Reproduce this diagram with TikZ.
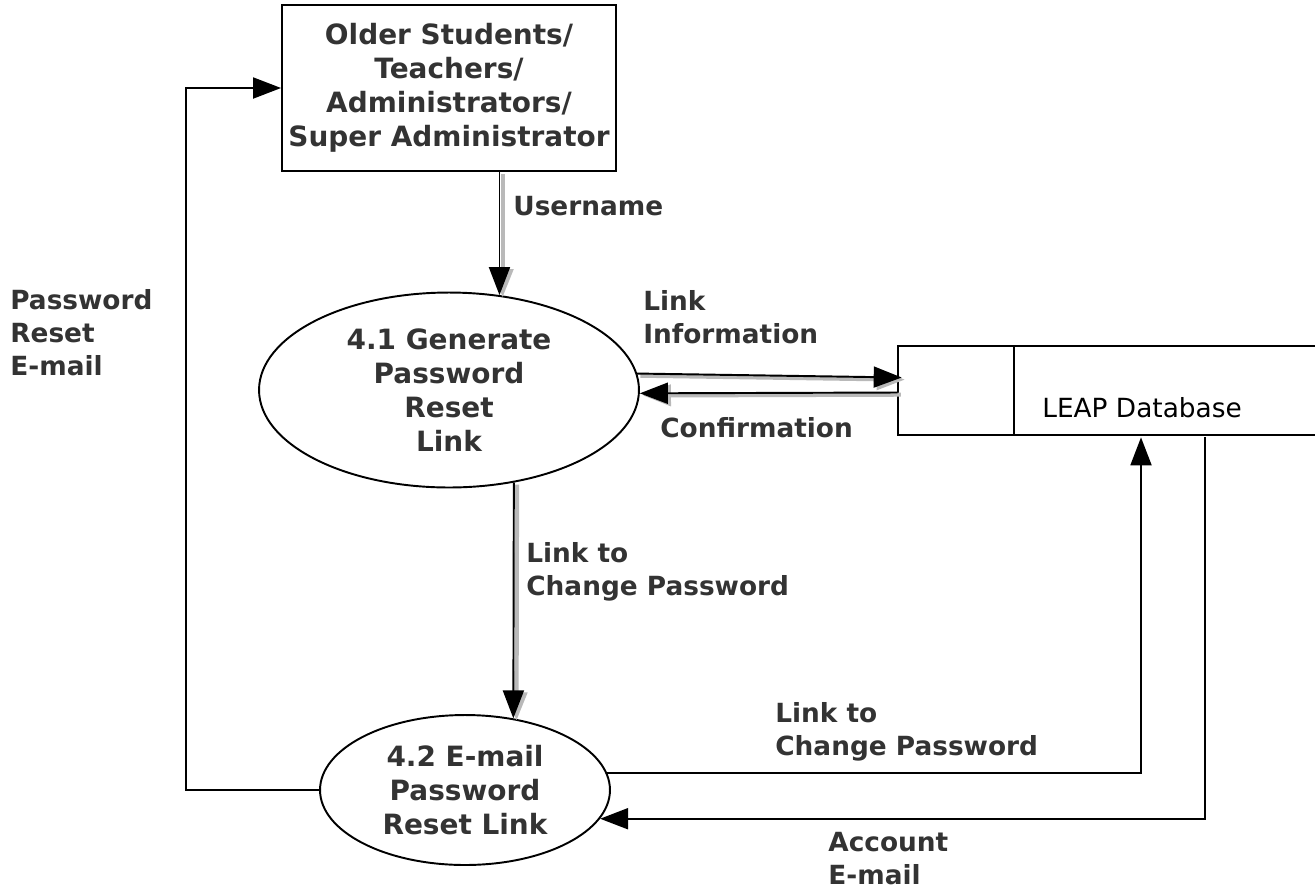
\documentclass[tikz,border=0pt]{standalone}
\usepackage{fontspec}
\setmainfont{DejaVu Sans}
\usetikzlibrary{arrows.meta,shapes.geometric,calc}
\definecolor{txtgray}{HTML}{333333}
\begin{document}
\begin{tikzpicture}[x=0.02cm,y=-0.02cm,
	txt/.style={font=\fontsize{15}{18.8}\selectfont\bfseries,text=txtgray},
	bigtxt/.style={font=\fontsize{15.9}{19.3}\selectfont\bfseries,text=txtgray},
	ent/.style={draw,line width=1.1pt,minimum width=6.68cm,minimum height=3.32cm,inner sep=1pt,align=center,bigtxt},
	proc/.style={draw,ellipse,line width=1.1pt,inner sep=0,align=center,bigtxt},
	lbl/.style={txt,anchor=west,align=left,inner sep=0},
	flow/.style={line width=1.1pt,-{Triangle[length=0.56cm,width=0.42cm]}},
	shflow/.style={flow,preaction={draw=gray!55,line width=2.4pt,transform canvas={shift={(1.8pt,-1.2pt)}}}}]
\useasboundingbox (0,0) rectangle (1315,890);
% external entity
\node[ent] (user) at (449,88) {Older Students/\\Teachers/\\Administrators/\\Super Administrator};
% processes
\node[proc,minimum width=7.6cm,minimum height=3.9cm] (gen) at (449,390) {4.1 Generate\\Password\\Reset\\Link};
\node[proc,minimum width=5.8cm,minimum height=3.0cm] (mail) at (465,790) {4.2 E-mail\\Password\\Reset Link};
% data store
\node[minimum width=8.34cm,minimum height=1.78cm,inner sep=0] (db) at (1106.5,390.5) {};
\draw[line width=1.1pt] (db.north east) -- (db.north west) -- (db.south west) -- (db.south east);
\draw[line width=1.1pt] ($(db.north west)+(116,0)$) -- ($(db.south west)+(116,0)$);
\node[anchor=base west,inner sep=0,font=\fontsize{15}{18.8}\selectfont] (dbname) at (1042,417) {LEAP Database};
% flows
\draw[shflow] (user.south -| gen.62.7) -- (gen.62.7);
\draw[shflow] (gen.5.5) -- ($(db.west)+(4,-13)$);
\draw[shflow] ($(db.west)+(0,2)$) -- (gen.-1);
\draw[shflow] (gen.-55) -- (mail.56);
\draw[flow] (mail.7.3) -| ($(db.south)+(34.5,2)$);
\draw[flow] ($(db.south)+(98.5,2)$) |- (mail.-12.7);
\draw[flow] (mail.west) -- ++(-133,0) |- (user.west);
% labels
\node[lbl] (l1) at (513,206) {Username};
\node[lbl] (l2) at (643,317) {Link\\Information};
\node[lbl] (l3) at (660,428) {Confirmation};
\node[lbl] (l4) at (526,572) {Link to\\Change Password};
\node[lbl] (l5) at (775,732) {Link to\\Change Password};
\node[lbl] (l6) at (828,859) {Account\\E-mail};
\node[lbl] (l7) at (10,333) {Password\\Reset\\E-mail};
\end{tikzpicture}
\end{document}
